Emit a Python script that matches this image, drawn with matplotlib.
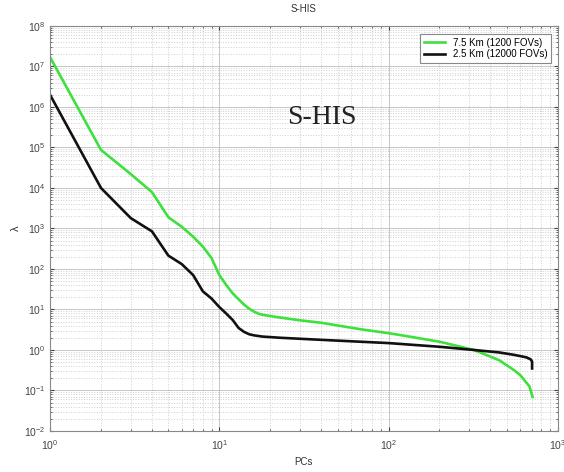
import numpy as np
import matplotlib.pyplot as plt
from matplotlib.ticker import LogLocator, NullFormatter

# eigenvalue spectra
pc_green = [1, 2, 3, 4, 5, 6, 7, 8, 9, 10, 11, 12, 13, 14, 15, 16, 17, 18, 20, 23,
            30, 40, 70, 100, 120, 200, 320, 450, 550, 600, 680, 710]
lam_green = [1.7e7, 8.7e4, 2.2e4, 7.9e3, 1.9e3, 1.1e3, 630, 355, 186, 71, 40, 25, 17.8,
             13.2, 10.5, 8.9, 7.9, 7.4, 6.9, 6.3, 5.4, 4.7, 3.2, 2.6, 2.3, 1.6, 1.0,
             0.56, 0.32, 0.24, 0.126, 0.069]

pc_black = [1, 2, 3, 4, 5, 6, 7, 8, 9, 10, 11, 12, 13, 14, 15, 16, 18, 23, 40, 100,
            200, 320, 450, 550, 650, 690, 705, 705]
lam_black = [2.0e6, 1.0e4, 1.8e3, 850, 214, 132, 71, 28, 18.6, 11.5, 7.9, 5.5, 3.5, 2.8,
             2.45, 2.3, 2.14, 2.0, 1.78, 1.48, 1.2, 1.0, 0.87, 0.76, 0.66, 0.59, 0.52, 0.35]

labels = ['7.5 Km (1200 FOVs)', '2.5 Km (12000 FOVs)']

plt.rcParams['font.family'] = ['Liberation Sans', 'DejaVu Sans']

fig = plt.figure(figsize=(5.64, 4.72), dpi=100)
ax = fig.add_axes([0.0887, 0.0869, 0.9003, 0.8581])

ax.plot(pc_green, lam_green, color='#3ee03e', lw=1.9, label=labels[0])
ax.plot(pc_black, lam_black, color='#111111', lw=1.9, label=labels[1])

ax.set_xscale('log')
ax.set_yscale('log')
ax.set_xlim(1, 1000)
ax.set_ylim(1e-2, 1e8)
ax.yaxis.set_major_locator(LogLocator(base=10, numticks=20))
ax.yaxis.set_minor_locator(LogLocator(base=10, subs=np.arange(2, 10), numticks=200))
ax.yaxis.set_minor_formatter(NullFormatter())
ax.xaxis.set_minor_locator(LogLocator(base=10, subs=np.arange(2, 10), numticks=200))
ax.xaxis.set_minor_formatter(NullFormatter())

ax.grid(True, which='major', color='#bdbdbd', ls='-', lw=0.6)
ax.grid(True, which='minor', color='#cfcfcf', ls=':', lw=0.7)
ax.tick_params(which='both', direction='in', top=True, right=True,
               labelsize=7.5, colors='#444444', length=3)
ax.tick_params(which='minor', length=1.5)
ax.tick_params(axis='x', pad=5)
for s in ax.spines.values():
    s.set_color('#888888')

ax.set_title('S-HIS', fontsize=7, color='#333333', pad=10)
ax.set_xlabel('PCs', fontsize=7, color='#333333', labelpad=4)
ax.set_ylabel('λ', fontsize=8, color='#333333', labelpad=2)

ax.text(25, 10**5.73, 'S-HIS', fontsize=20, family=['Liberation Serif', 'DejaVu Serif'],
        ha='left', va='center', color='#222222')

leg = ax.legend(loc='upper right', fontsize=7, frameon=True, fancybox=False,
                edgecolor='#888888', handlelength=2.2, borderpad=0.4,
                labelspacing=0.2, bbox_to_anchor=(0.997, 0.993), framealpha=1)
leg.get_frame().set_linewidth(0.8)

fig.savefig('out.png', dpi=100)
